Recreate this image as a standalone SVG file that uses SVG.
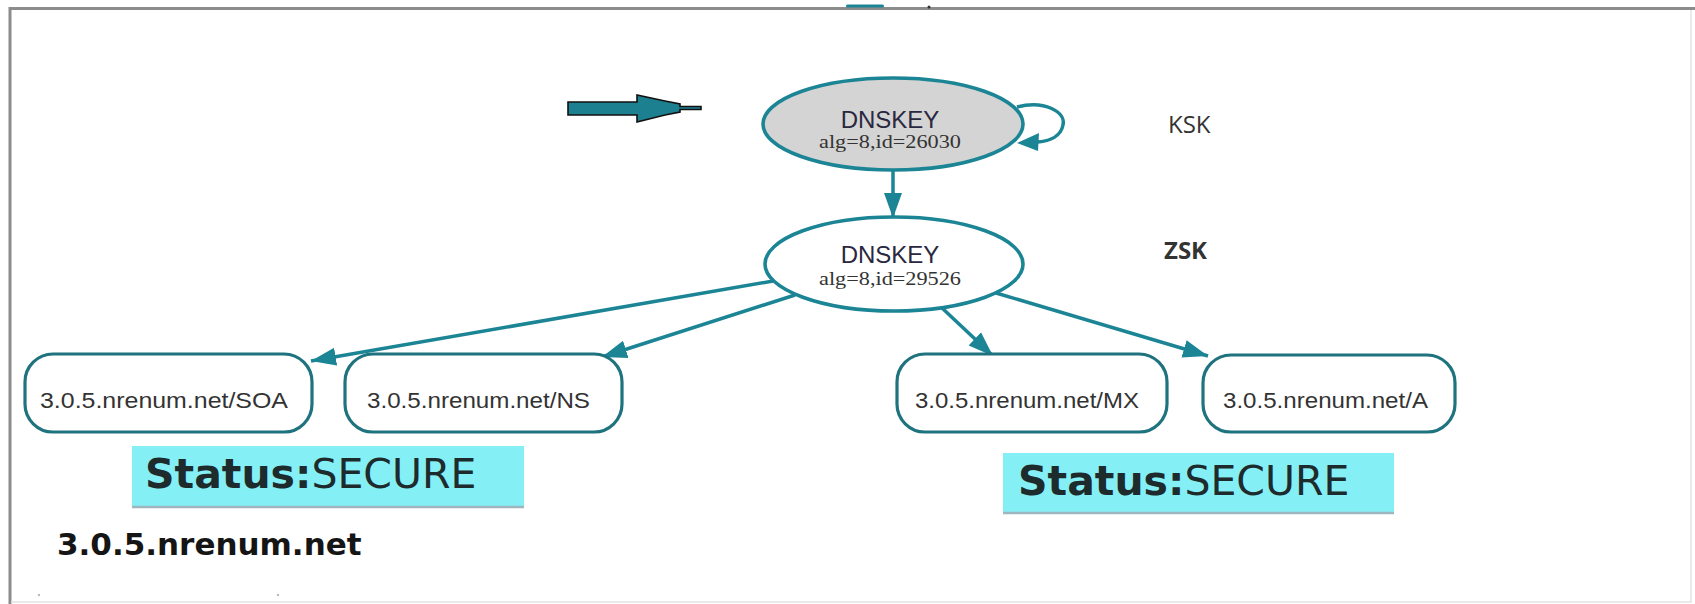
<svg xmlns="http://www.w3.org/2000/svg" width="1695" height="604" viewBox="0 0 1695 604">
<defs>
<style>
.frame{stroke:#8c8c8c;stroke-width:3;fill:none}
.edge{stroke:#1b8595;stroke-width:3.5;fill:none}
.rec{fill:#ffffff;stroke:#1e737e;stroke-width:3.2}
.key{stroke:#1b8595;stroke-width:3.6}
.t1{font-family:"Liberation Sans",Arial,sans-serif;font-size:24px;fill:#2a2840;text-anchor:middle}
.t2{font-family:"Liberation Serif","Times New Roman",serif;font-size:18px;fill:#333333}
.rt{font-family:"Liberation Sans",Arial,sans-serif;font-size:22px;fill:#333333}
.lab{font-family:"Open Sans","DejaVu Sans",sans-serif;font-size:24px;fill:#333333}
.st{font-family:"DejaVu Sans",sans-serif;font-size:41px;fill:#1e2b2d}
.stbox{fill:#84f0f6}
.stline{stroke:#9fb6c0;stroke-width:2.5}
</style>
<marker id="ah" markerUnits="userSpaceOnUse" markerWidth="26" markerHeight="20" refX="25" refY="9" orient="auto" viewBox="0 0 26 18">
<path d="M0,0 L25,9 L0,18 z" fill="#1b8595"/>
</marker>
</defs>
<rect width="1695" height="604" fill="#ffffff"/>
<g id="frame">
<path class="frame" d="M10,604 L10,8.5 L1695,8.5"/>
<path d="M1691,10 L1691,602 L11,602" stroke="#e4e4e4" stroke-width="1.5" fill="none"/>
<rect x="846" y="4.5" width="38" height="3" rx="1.5" fill="#1b8595"/>
<circle cx="929" cy="7" r="1.5" fill="#333333"/>
<circle cx="39" cy="595" r="1.2" fill="#bbbbbb"/>
<circle cx="278" cy="595" r="1.2" fill="#bbbbbb"/>
</g>
<g id="pointer">
<path d="M568,102 L637,102 L637,95 L665,101 L680,104 L680,106.5 L701,106.5 L701,109.5 L680,109.5 L680,112 L665,115 L637,122 L637,115 L568,115 Z" fill="#1d8090" stroke="#111111" stroke-width="1.6"/>
</g>
<g id="connectors">
<path class="edge" d="M1017,107 C1045,100 1066,112 1063,125 C1061,136 1050,141 1038,142" />
<path d="M1017,143 L1039,133 L1038,151 Z" fill="#1b8595"/>
<line class="edge" x1="893" y1="170" x2="893" y2="218" marker-end="url(#ah)"/>
<line class="edge" x1="773" y1="281" x2="311" y2="361" marker-end="url(#ah)"/>
<line class="edge" x1="795" y1="295" x2="602" y2="357" marker-end="url(#ah)"/>
<line class="edge" x1="941" y1="307" x2="993" y2="356" marker-end="url(#ah)"/>
<line class="edge" x1="996" y1="293" x2="1208" y2="356" marker-end="url(#ah)"/>
</g>
<g id="ksk">
<ellipse class="key" cx="893" cy="124" rx="130" ry="46" fill="#d4d4d4"/>
<text class="t1" x="890" y="128">DNSKEY</text>
<text class="t2" x="819" y="148" textLength="142" lengthAdjust="spacingAndGlyphs">alg=8,id=26030</text>
</g>
<g id="zsk">
<ellipse class="key" cx="894" cy="264" rx="129" ry="47" fill="#ffffff"/>
<text class="t1" x="890" y="263">DNSKEY</text>
<text class="t2" x="819" y="285" textLength="142" lengthAdjust="spacingAndGlyphs">alg=8,id=29526</text>
</g>
<g id="ksk-label">
<text class="lab" x="1168" y="133">KSK</text>
</g>
<g id="zsk-label">
<text class="lab" x="1164" y="259" font-weight="bold" fill="#111111">ZSK</text>
</g>
<g id="soa">
<rect class="rec" x="25" y="354" width="287" height="78" rx="28"/>
<text class="rt" x="40" y="408" textLength="248" lengthAdjust="spacingAndGlyphs">3.0.5.nrenum.net/SOA</text>
</g>
<g id="ns">
<rect class="rec" x="345" y="354" width="277" height="78" rx="28"/>
<text class="rt" x="367" y="408" textLength="223" lengthAdjust="spacingAndGlyphs">3.0.5.nrenum.net/NS</text>
</g>
<g id="mx">
<rect class="rec" x="897" y="354" width="270" height="78" rx="28"/>
<text class="rt" x="915" y="408" textLength="224" lengthAdjust="spacingAndGlyphs">3.0.5.nrenum.net/MX</text>
</g>
<g id="a">
<rect class="rec" x="1203" y="355" width="252" height="77" rx="28"/>
<text class="rt" x="1223" y="408" textLength="205" lengthAdjust="spacingAndGlyphs">3.0.5.nrenum.net/A</text>
</g>
<g id="status-left">
<rect class="stbox" x="132" y="446" width="392" height="61"/>
<line class="stline" x1="132" y1="507" x2="524" y2="507"/>
<text class="st" x="145" y="488"><tspan font-weight="bold">Status:</tspan>SECURE</text>
</g>
<g id="status-right">
<rect class="stbox" x="1003" y="453" width="391" height="60"/>
<line class="stline" x1="1003" y1="513" x2="1394" y2="513"/>
<text class="st" x="1018" y="495"><tspan font-weight="bold">Status:</tspan>SECURE</text>
</g>
<g id="zone-label">
<text x="57" y="555" font-family="'DejaVu Sans',sans-serif" font-size="31" font-weight="bold" fill="#151515">3.0.5.nrenum.net</text>
</g>
</svg>
